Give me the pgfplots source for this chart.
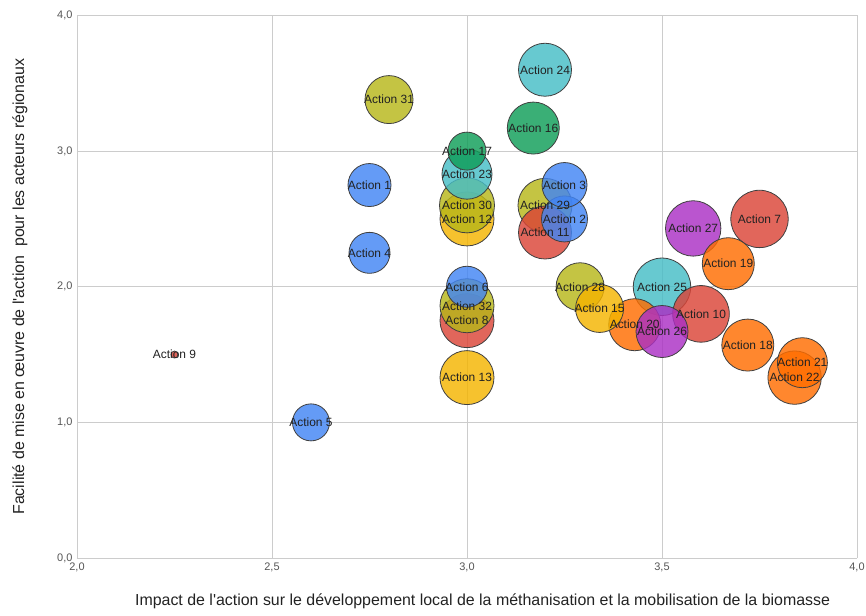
\documentclass[border=0pt]{standalone}
\usepackage{fontspec}
\setmainfont{Liberation Sans}
\usepackage{pgfplots}
\pgfplotsset{compat=1.18}
\usepackage{pgfplotstable}
\usetikzlibrary{calc}

\definecolor{cB}{HTML}{4285F4}
\definecolor{cR}{HTML}{DB4437}
\definecolor{cY}{HTML}{F4B400}
\definecolor{cG}{HTML}{0F9D58}
\definecolor{cO}{HTML}{FF6D00}
\definecolor{cT}{HTML}{46BDC6}
\definecolor{cL}{HTML}{B7B71A}
\definecolor{cP}{HTML}{AB30C4}
\definecolor{gridc}{HTML}{CCCCCC}
\definecolor{tickc}{HTML}{555555}
\definecolor{titc}{HTML}{222222}

% x y radius(px) action class ; sorted by size (largest drawn first)
\pgfplotstableread{
x     y     r     n   c
3.75  2.50  28.7  7   R
3.50  2.00  28.7  25  T
3.60  1.80  28.3  10  R
3.58  2.43  27.7  27  P
3.00  2.50  27.0  12  Y
3.00  2.60  27.5  30  L
3.20  2.60  27.0  29  L
3.00  1.75  27.0  8   R
3.00  1.86  27.0  32  L
3.00  1.33  27.0  13  Y
3.84  1.33  26.7  22  O
3.20  3.60  26.5  24  T
3.20  2.40  26.5  11  R
3.17  3.17  26.0  16  G
3.67  2.17  26.0  19  O
3.43  1.72  26.0  20  O
3.72  1.57  26.0  18  O
3.50  1.67  26.0  26  P
3.00  2.83  25.0  23  T
3.86  1.44  25.0  21  O
2.80  3.38  24.0  31  L
3.29  2.00  24.0  28  L
3.34  1.84  24.0  15  Y
3.25  2.50  23.0  2   B
3.25  2.75  22.5  3   B
2.75  2.75  21.5  1   B
2.75  2.25  20.5  4   B
3.00  2.00  20.5  6   B
3.00  3.00  19.0  17  G
2.60  1.00  18.5  5   B
2.25  1.50  3.5   9   R
}\bubbles

\begin{document}
\begin{tikzpicture}
\begin{axis}[
  scale only axis,
  width=780bp, height=542.5bp,
  xmin=2, xmax=4, ymin=0, ymax=4,
  xtick={2,2.5,3,3.5,4}, ytick={0,1,2,3,4},
  grid=major,
  major grid style={draw=gridc, line width=0.8bp},
  axis line style={draw=none},
  tick style={draw=none},
  extra y ticks={0},
  extra y tick labels={},
  extra y tick style={grid style={draw=black!80, line width=1.3bp}},
  /pgf/number format/.cd, use comma, fixed, fixed zerofill, precision=1, assume math mode=true,
  /pgfplots/.cd,
  ticklabel style={font=\fontsize{11}{13}\selectfont, text=tickc},
  xticklabel style={yshift=-1bp},
  yticklabel style={xshift=-1bp},
  clip=false,
  xlabel={Impact de l\textquotesingle action sur le développement local de la méthanisation et la mobilisation de la biomasse},
  ylabel={Facilité de mise en œuvre de l\textquotesingle action\ \ pour les acteurs régionaux},
  xlabel style={at={(axis description cs:0.52,-0.0793)}, anchor=center, font=\fontsize{16}{19}\selectfont, text=titc},
  ylabel style={at={(axis description cs:-0.0731,0.5)}, anchor=center, font=\fontsize{16}{19}\selectfont, text=titc},
]
\addplot[
  scatter, only marks, mark=*,
  point meta=explicit symbolic,
  scatter/classes={
    B={mark=*, draw=black!75, fill=cB, fill opacity=0.82, line width=0.8bp},
    R={mark=*, draw=black!75, fill=cR, fill opacity=0.82, line width=0.8bp},
    Y={mark=*, draw=black!75, fill=cY, fill opacity=0.82, line width=0.8bp},
    G={mark=*, draw=black!75, fill=cG, fill opacity=0.82, line width=0.8bp},
    O={mark=*, draw=black!75, fill=cO, fill opacity=0.82, line width=0.8bp},
    T={mark=*, draw=black!75, fill=cT, fill opacity=0.82, line width=0.8bp},
    L={mark=*, draw=black!75, fill=cL, fill opacity=0.82, line width=0.8bp},
    P={mark=*, draw=black!75, fill=cP, fill opacity=0.82, line width=0.8bp}
  },
  visualization depends on={\thisrow{r} \as \rad},
  scatter/@pre marker code/.append style={/tikz/mark size=\rad bp},
] table[x=x, y=y, meta=c] {\bubbles};
\addplot[
  only marks, mark=none,
  point meta=explicit symbolic,
  nodes near coords={Action \pgfplotspointmeta},
  every node near coord/.style={anchor=center, inner sep=0pt, font=\fontsize{12}{14}\selectfont, text=titc},
] table[x=x, y=y, meta=n] {\bubbles};
\end{axis}
\pgfresetboundingbox
\path[use as bounding box] ($(current axis.south west)+(-77bp,-58bp)$) rectangle ($(current axis.north east)+(9bp,15.5bp)$);
\end{tikzpicture}
\end{document}
